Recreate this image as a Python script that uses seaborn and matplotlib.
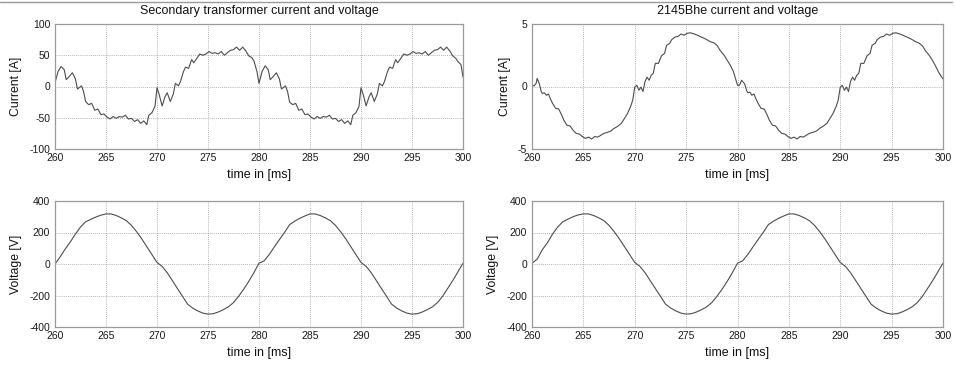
import numpy as np
import pandas as pd
import matplotlib
matplotlib.use("Agg")
import matplotlib.pyplot as plt
from matplotlib.lines import Line2D
import seaborn as sns

# ---------------- data ----------------
# Secondary transformer current [A]
t_sec = [260.0, 260.3, 260.6, 260.9, 261.1, 261.4, 261.7, 262.0, 262.2, 262.6, 262.8, 263.0,
         263.3, 263.6, 263.9, 264.2, 264.5, 264.8, 265.1, 265.4, 265.7, 266.0, 266.3, 266.6,
         266.9, 267.2, 267.5, 267.8, 268.1, 268.4, 268.7, 269.0, 269.2, 269.5, 269.8, 270.0,
         270.2, 270.5, 270.8, 271.0, 271.3, 271.6, 271.8, 272.1, 272.3, 272.6, 272.8, 273.1,
         273.4, 273.6, 273.9, 274.2, 274.5, 274.8, 275.1, 275.4, 275.7, 276.0, 276.3, 276.6,
         276.9, 277.2, 277.5, 277.8, 278.1, 278.4, 278.7, 279.0, 279.3, 279.5, 279.8,
         280.0, 280.3, 280.6, 280.9, 281.1, 281.4, 281.7, 282.0, 282.2, 282.6, 282.8, 283.0,
         283.3, 283.6, 283.9, 284.2, 284.5, 284.8, 285.1, 285.4, 285.7, 286.0, 286.3, 286.6,
         286.9, 287.2, 287.5, 287.8, 288.1, 288.4, 288.7, 289.0, 289.2, 289.5, 289.8, 290.0,
         290.2, 290.5, 290.8, 291.0, 291.3, 291.6, 291.8, 292.1, 292.3, 292.6, 292.8, 293.1,
         293.4, 293.6, 293.9, 294.2, 294.5, 294.8, 295.1, 295.4, 295.7, 296.0, 296.3, 296.6,
         296.9, 297.2, 297.5, 297.8, 298.1, 298.4, 298.7, 299.0, 299.3, 299.5, 299.8, 300.0]
i_sec = [6, 24, 32, 27, 11, 16, 22, 12, -4, 1, -8, -24,
         -29, -27, -38, -36, -45, -44, -49, -52, -48, -51, -48, -49,
         -46, -52, -51, -56, -53, -59, -55, -61, -46, -42, -32, -2,
         -12, -31, -16, -10, -24, -12, 5, 1, 8, 24, 31, 29,
         43, 38, 45, 52, 50, 52, 56, 53, 54, 52, 56, 50,
         54, 58, 59, 63, 58, 63, 57, 49, 46, 41, 24,
         5, 24, 33, 27, 11, 16, 22, 12, -4, 1, -8, -25,
         -29, -27, -38, -36, -45, -44, -49, -52, -48, -51, -48, -49,
         -46, -52, -51, -56, -53, -59, -55, -61, -46, -42, -32, -2,
         -12, -31, -16, -10, -24, -12, 5, 1, 8, 24, 31, 29,
         43, 38, 45, 52, 50, 52, 56, 53, 54, 52, 56, 50,
         54, 58, 59, 63, 58, 63, 57, 49, 45, 40, 35, 15]

# 2145Bhe current [A]
t_bhe = [260.0, 260.2, 260.4, 260.5, 260.7, 260.9, 261.0, 261.2, 261.4, 261.6, 261.8, 262.0,
         262.3, 262.6, 262.9, 263.1, 263.4, 263.7, 264.0, 264.3, 264.6, 264.9, 265.2, 265.5,
         265.8, 266.1, 266.4, 266.7, 267.0, 267.4, 267.7, 268.0, 268.3, 268.7, 269.0, 269.3,
         269.6, 269.8, 270.0, 270.2, 270.4, 270.6, 270.8, 271.0, 271.2, 271.4, 271.6, 271.8,
         272.0, 272.3, 272.6, 272.9, 273.1, 273.4, 273.6, 273.9, 274.2, 274.5, 274.8, 275.1,
         275.4, 275.8, 276.1, 276.5, 276.9, 277.3, 277.7, 278.0, 278.3, 278.7, 279.0, 279.3,
         279.6, 279.8,
         280.0, 280.2, 280.4, 280.5, 280.7, 280.9, 281.0, 281.2, 281.4, 281.6, 281.8, 282.0,
         282.3, 282.6, 282.9, 283.1, 283.4, 283.7, 284.0, 284.3, 284.6, 284.9, 285.2, 285.5,
         285.8, 286.1, 286.4, 286.7, 287.0, 287.4, 287.7, 288.0, 288.3, 288.7, 289.0, 289.3,
         289.6, 289.8, 290.0, 290.2, 290.4, 290.6, 290.8, 291.0, 291.2, 291.4, 291.6, 291.8,
         292.0, 292.3, 292.6, 292.9, 293.1, 293.4, 293.6, 293.9, 294.2, 294.5, 294.8, 295.1,
         295.4, 295.8, 296.1, 296.5, 296.9, 297.3, 297.7, 298.0, 298.3, 298.7, 299.0, 299.3,
         299.6, 300.0]
i_bhe = [0.1, 0.05, 0.25, 0.65, 0.25, -0.4, -0.55, -0.5, -0.7, -0.6, -1.0, -1.35,
         -1.75, -1.8, -2.3, -2.7, -3.1, -3.15, -3.5, -3.75, -3.8, -4.0, -4.15, -4.05,
         -4.2, -4.0, -4.05, -3.9, -3.75, -3.65, -3.55, -3.35, -3.2, -2.95, -2.55, -2.15,
         -1.6, -1.1, -0.05, 0.1, -0.3, -0.05, -0.4, 0.4, 0.75, 0.5, 0.9, 1.05,
         1.85, 1.85, 2.45, 2.65, 3.3, 3.45, 3.75, 3.95, 4.0, 4.2, 4.1, 4.25,
         4.3, 4.2, 4.1, 3.95, 3.8, 3.6, 3.5, 3.3, 2.9, 2.5, 2.1, 1.7,
         1.2, 0.65,
         0.1, 0.1, 0.5, 0.4, 0.2, -0.35, -0.5, -0.45, -0.7, -0.6, -1.0, -1.35,
         -1.75, -1.8, -2.3, -2.7, -3.1, -3.15, -3.5, -3.75, -3.8, -4.0, -4.15, -4.05,
         -4.2, -4.0, -4.05, -3.9, -3.75, -3.65, -3.55, -3.35, -3.2, -2.95, -2.55, -2.15,
         -1.6, -1.1, -0.05, 0.1, -0.3, -0.05, -0.4, 0.4, 0.75, 0.5, 0.9, 1.05,
         1.85, 1.85, 2.45, 2.65, 3.3, 3.45, 3.75, 3.95, 4.0, 4.2, 4.1, 4.25,
         4.3, 4.2, 4.1, 3.95, 3.8, 3.6, 3.45, 3.25, 2.85, 2.45, 2.05, 1.6,
         1.1, 0.6]

# Voltages [V], sampled every 0.5 ms from 260 to 300 ms
t_volt = [260.0, 260.5, 261.0, 261.5, 262.0, 262.5, 263.0, 263.5, 264.0, 264.5,
          265.0, 265.5, 266.0, 266.5, 267.0, 267.5, 268.0, 268.5, 269.0, 269.5,
          270.0, 270.5, 271.0, 271.5, 272.0, 272.5, 273.0, 273.5, 274.0, 274.5,
          275.0, 275.5, 276.0, 276.5, 277.0, 277.5, 278.0, 278.5, 279.0, 279.5,
          280.0, 280.5, 281.0, 281.5, 282.0, 282.5, 283.0, 283.5, 284.0, 284.5,
          285.0, 285.5, 286.0, 286.5, 287.0, 287.5, 288.0, 288.5, 289.0, 289.5,
          290.0, 290.5, 291.0, 291.5, 292.0, 292.5, 293.0, 293.5, 294.0, 294.5,
          295.0, 295.5, 296.0, 296.5, 297.0, 297.5, 298.0, 298.5, 299.0, 299.5,
          300.0]
v_sec = [0, 45, 95, 140, 190, 235, 268, 283, 298, 310,
         318, 318, 308, 293, 275, 245, 205, 160, 110, 60,
         10, -15, -55, -105, -155, -205, -255, -280, -298, -312,
         -318, -316, -305, -290, -272, -245, -205, -160, -110, -55,
         5, 20, 60, 108, 155, 200, 250, 272, 290, 305,
         318, 318, 308, 293, 275, 245, 205, 160, 110, 60,
         10, -15, -55, -105, -155, -205, -255, -280, -298, -312,
         -318, -316, -305, -290, -272, -245, -205, -155, -105, -50,
         5]
v_bhe = [5, 30, 90, 135, 190, 235, 268, 285, 300, 312,
         318, 318, 308, 293, 275, 245, 205, 160, 110, 60,
         10, -15, -55, -105, -155, -205, -255, -280, -298, -312,
         -318, -316, -305, -290, -272, -245, -205, -160, -110, -55,
         5, 20, 60, 108, 155, 200, 250, 272, 290, 305,
         318, 318, 308, 293, 275, 245, 205, 160, 110, 60,
         10, -15, -55, -105, -155, -205, -255, -280, -298, -312,
         -318, -316, -305, -290, -272, -245, -205, -155, -105, -50,
         5]

titles = ["Secondary transformer current and voltage", "2145Bhe current and voltage"]
x_label = "time in [ms]"
y_label_cur = "Current [A]"
y_label_volt = "Voltage [V]"
x_ticks = [260, 265, 270, 275, 280, 285, 290, 295, 300]
y_ticks_sec = [-100, -50, 0, 50, 100]
y_ticks_bhe = [-5, 0, 5]
y_ticks_volt = [-400, -200, 0, 200, 400]

# ---------------- plotting ----------------
sns.set_theme(style="white")
plt.rcParams["font.family"] = ["Liberation Sans", "DejaVu Sans"]
plt.rcParams["axes.unicode_minus"] = False

W, H = 955, 370
fig = plt.figure(figsize=(W / 100, H / 100), dpi=100)

def px_axes(l, t, r, b):
    return fig.add_axes([l / W, 1 - b / H, (r - l) / W, (b - t) / H])

ax_tl = px_axes(55, 24, 463, 149)
ax_tr = px_axes(532, 24, 943, 149)
ax_bl = px_axes(55, 201, 463, 327)
ax_br = px_axes(532, 201, 943, 327)

line_col = "#4d4d4d"
specs = [
    (ax_tl, t_sec, i_sec, y_ticks_sec, y_label_cur, titles[0]),
    (ax_tr, t_bhe, i_bhe, y_ticks_bhe, y_label_cur, titles[1]),
    (ax_bl, t_volt, v_sec, y_ticks_volt, y_label_volt, None),
    (ax_br, t_volt, v_bhe, y_ticks_volt, y_label_volt, None),
]

for ax, tx, vy, yt, ylab, title in specs:
    df = pd.DataFrame({"t": tx, "v": vy})
    sns.lineplot(data=df, x="t", y="v", ax=ax, color=line_col, linewidth=0.8,
                 estimator=None, sort=False)
    ax.set_xlim(260, 300)
    ax.set_ylim(yt[0], yt[-1])
    ax.set_xticks(x_ticks)
    ax.set_yticks(yt)
    ax.grid(True, linestyle=(0, (1, 1.5)), color="#9a9a9a", linewidth=0.6)
    ax.set_axisbelow(True)
    for s in ax.spines.values():
        s.set_color("#9a9a9a")
        s.set_linewidth(0.9)
    ax.tick_params(axis="both", labelsize=7.5, colors="#1a1a1a", direction="in",
                   length=2, width=0.6)
    ax.tick_params(axis="x", pad=3)
    ax.tick_params(axis="y", pad=3.5)
    ax.set_xlabel(x_label, fontsize=9, color="#111111", labelpad=4)
    ax.set_ylabel(ylab, fontsize=8.8, color="#111111", labelpad=5)
    if title:
        ax.set_title(title, fontsize=9, color="#111111", pad=7)

fig.add_artist(Line2D([0, 0.997], [1 - 1.5 / H, 1 - 1.5 / H], color="#9a9a9a",
                      linewidth=1.0, transform=fig.transFigure))

fig.savefig("out.png", dpi=100, facecolor="white")
